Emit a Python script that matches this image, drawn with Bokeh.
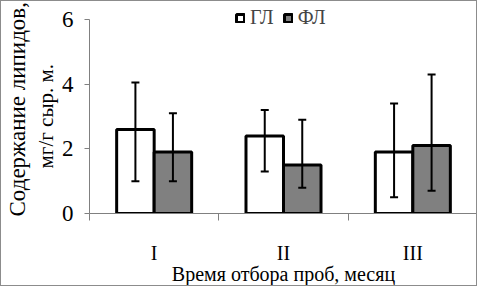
from bokeh.plotting import figure
from bokeh.models import (ColumnDataSource, Whisker, TeeHead, LinearAxis, FixedTicker,
                          Legend, LegendItem, Range1d, Title)
from bokeh.embed import file_html
from bokeh.resources import INLINE

months = ["I", "II", "III"]
gl = [2.6, 2.4, 1.9]
fl = [1.9, 1.5, 2.1]
gl_upper = [4.05, 3.2, 3.4]
gl_lower = [1.0, 1.3, 0.5]
fl_upper = [3.1, 2.9, 4.3]
fl_lower = [1.0, 0.8, 0.7]
series_names = ["ГЛ", "ФЛ"]
y_ticks = [0, 2, 4, 6]
x_title = "Время отбора проб, месяц"
y_title_1 = "Содержание липидов,"
y_title_2 = "мг/г сыр. м."

FONT = "Liberation Serif"
AXIS_GREY = "#808080"
BAR_W = 0.29

idx = list(range(len(months)))
gl_x = [i + 0.5 - BAR_W / 2 for i in idx]
fl_x = [i + 0.5 + BAR_W / 2 for i in idx]

src_gl = ColumnDataSource(dict(x=gl_x, top=gl, upper=gl_upper, lower=gl_lower))
src_fl = ColumnDataSource(dict(x=fl_x, top=fl, upper=fl_upper, lower=fl_lower))

p = figure(width=477, height=286, output_backend="svg", toolbar_location=None,
           x_range=Range1d(0, len(months)), y_range=Range1d(0, 6.557),
           min_border_left=85, min_border_right=1, min_border_top=0, min_border_bottom=74,
           y_axis_location=None, x_axis_location=None)
p.styles = {"border": "1px solid #8c8c8c"}
p.outline_line_color = None
p.grid.visible = False
p.background_fill_color = "white"
p.border_fill_color = "white"

r_gl = p.vbar(x="x", top="top", width=BAR_W, source=src_gl, fill_color="white",
              line_color="black", line_width=3)
r_fl = p.vbar(x="x", top="top", width=BAR_W, source=src_fl, fill_color="#808080",
              line_color="black", line_width=3)

for src in (src_gl, src_fl):
    w = Whisker(base="x", upper="upper", lower="lower", source=src, level="overlay",
                line_color="black", line_width=2,
                upper_head=TeeHead(size=8, line_width=2, line_color="black"),
                lower_head=TeeHead(size=8, line_width=2, line_color="black"))
    p.add_layout(w)

# y axis
yax = LinearAxis(ticker=FixedTicker(ticks=y_ticks), bounds=(y_ticks[0], y_ticks[-1]))
yax.major_label_overrides = {t: str(t) for t in y_ticks}
yax.axis_line_color = AXIS_GREY
yax.major_tick_line_color = AXIS_GREY
yax.major_tick_in = 0
yax.major_tick_out = 5
yax.minor_tick_line_color = None
yax.major_label_text_font = FONT
yax.major_label_text_font_style = "normal"
yax.major_label_text_font_size = "23px"
yax.major_label_text_color = "black"
yax.major_label_standoff = 11
p.add_layout(yax, "left")

t2 = Title(text=y_title_2, align="left", offset=45, standoff=2,
           text_font=FONT, text_font_style="normal", text_font_size="21px",
           text_color="black")
p.add_layout(t2, "left")
t1 = Title(text=y_title_1, align="left", offset=-3, standoff=2,
           text_font=FONT, text_font_style="normal", text_font_size="23px",
           text_color="black")
p.add_layout(t1, "left")

# x axis
centers = [i + 0.5 for i in idx]
xax = LinearAxis(ticker=FixedTicker(ticks=centers, minor_ticks=list(range(len(months) + 1))),
                 axis_label=x_title)
xax.major_label_overrides = {c: m for c, m in zip(centers, months)}
xax.axis_line_color = AXIS_GREY
xax.major_tick_line_color = None
xax.major_tick_in = 0
xax.major_tick_out = 0
xax.minor_tick_line_color = AXIS_GREY
xax.minor_tick_in = 0
xax.minor_tick_out = 7
xax.major_label_text_font = FONT
xax.major_label_text_font_size = "20px"
xax.major_label_text_color = "black"
xax.major_label_standoff = 21
xax.axis_label_text_font = FONT
xax.axis_label_text_font_style = "normal"
xax.axis_label_text_font_size = "20px"
xax.axis_label_text_color = "black"
xax.axis_label_standoff = -4
p.add_layout(xax, "below")

legend = Legend(items=[LegendItem(label=series_names[0], renderers=[r_gl]),
                       LegendItem(label=series_names[1], renderers=[r_fl])],
                orientation="horizontal", location=(146, 184),
                label_text_font=FONT, label_text_font_size="20px",
                glyph_width=10, glyph_height=10, spacing=9, padding=0, margin=0,
                label_standoff=5, background_fill_alpha=0, border_line_color=None)
p.add_layout(legend)

open("out.html", "w").write(file_html(p, INLINE))
